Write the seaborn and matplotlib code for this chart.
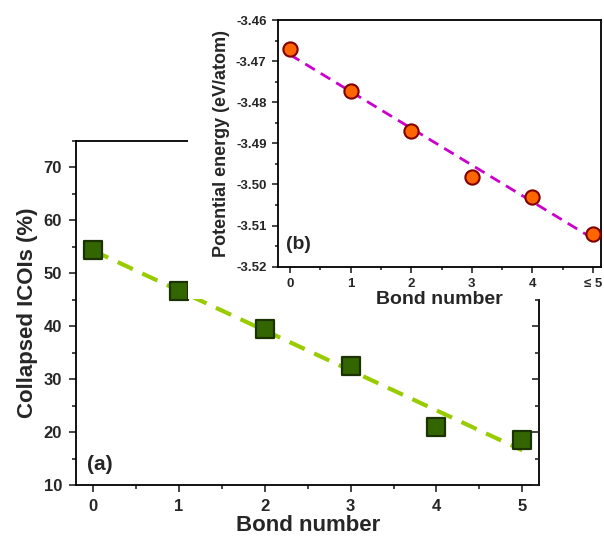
import numpy as np
import pandas as pd
import matplotlib
matplotlib.use("Agg")
import matplotlib.pyplot as plt
import seaborn as sns
from matplotlib.patches import Rectangle
from matplotlib.ticker import MultipleLocator, FormatStrFormatter

# Data
bond_a = [0, 1, 2, 3, 4, 5]
collapsed = [54.5, 46.7, 39.4, 32.4, 21.0, 18.5]
bond_b = [0, 1, 2, 3, 4, 5]
energy = [-3.4671, -3.4773, -3.4870, -3.4983, -3.5030, -3.5121]
xticklabels_b = ["0", "1", "2", "3", "4", "≤ 5"]

sns.set_style("white")
plt.rcParams['font.family'] = ['Liberation Sans', 'DejaVu Sans']
plt.rcParams['font.weight'] = 'bold'

fig = plt.figure(figsize=(6.04, 5.38), dpi=100)

# Main axes
ax = fig.add_axes([0.1258, 0.0985, 0.7674, 0.6394], zorder=0)
df_a = pd.DataFrame({"x": bond_a, "y": collapsed})
sns.regplot(data=df_a, x="x", y="y", ax=ax, ci=None, scatter=False,
            line_kws=dict(color="#99cc00", lw=3, ls=(0, (4, 2.5)), zorder=2))
sns.scatterplot(data=df_a, x="x", y="y", ax=ax, marker="s", s=160,
                color="#336600", edgecolor="#1a3300", linewidth=1.6, zorder=3)
ax.set_xlim(-0.2, 5.2)
ax.set_ylim(10, 75)
ax.set_xticks(range(6))
ax.set_yticks(range(10, 71, 10))
ax.xaxis.set_minor_locator(MultipleLocator(0.5))
ax.yaxis.set_minor_locator(MultipleLocator(5))
ax.tick_params(axis='both', which='major', direction='out', length=5, width=1.2,
               labelsize=12, bottom=True, left=True, pad=5)
ax.tick_params(axis='both', which='minor', direction='out', length=3, width=1.2,
               bottom=True, left=True)
for s in ax.spines.values():
    s.set_linewidth(1.3)
    s.set_color('black')
ax.set_xlabel("Bond number", fontsize=16, fontweight='bold', labelpad=1)
ax.set_ylabel("Collapsed ICOIs (%)", fontsize=16, fontweight='bold', labelpad=4)
ax.text(-0.07, 13.8, "(a)", fontsize=15, fontweight='bold', ha='left', va='center')
plt.setp(ax.get_xticklabels() + ax.get_yticklabels(), fontweight='bold')

# right-side inward ticks
axr = ax.twinx()
axr.set_zorder(0)
axr.set_ylim(10, 75)
axr.set_yticks(range(10, 71, 10))
axr.yaxis.set_minor_locator(MultipleLocator(5))
axr.tick_params(axis='y', which='major', direction='in', length=5, width=1.2,
                right=True, labelright=False)
axr.tick_params(axis='y', which='minor', direction='in', length=3, width=1.2,
                right=True, labelright=False)
for s in axr.spines.values():
    s.set_visible(False)
axr.grid(False)

# white cover behind the inset
rect = Rectangle((188/604, 1-299/538), 1-188/604, 299/538, transform=fig.transFigure,
                 facecolor='white', edgecolor='none', zorder=1)
fig.patches.append(rect)

# Inset axes
ax2 = fig.add_axes([0.4598, 0.5043, 0.5353, 0.4585], zorder=2)
df_b = pd.DataFrame({"x": bond_b, "y": energy})
sns.regplot(data=df_b, x="x", y="y", ax=ax2, ci=None, scatter=False,
            line_kws=dict(color="#cc00cc", lw=2, ls=(0, (4, 2.5)), zorder=2))
sns.scatterplot(data=df_b, x="x", y="y", ax=ax2, marker="o", s=105,
                color="#ff6600", edgecolor="#800000", linewidth=1.5, zorder=3)
ax2.set_xlim(-0.2, 5.13)
ax2.set_ylim(-3.52, -3.46)
ax2.set_xticks(range(6))
ax2.set_xticklabels(xticklabels_b)
ax2.set_yticks(np.round(np.arange(-3.52, -3.459, 0.01), 2))
ax2.yaxis.set_major_formatter(FormatStrFormatter('%.2f'))
ax2.xaxis.set_minor_locator(MultipleLocator(0.5))
ax2.yaxis.set_minor_locator(MultipleLocator(0.005))
ax2.tick_params(axis='both', which='major', direction='out', length=4, width=1.2,
                labelsize=9.5, bottom=True, left=True, pad=4)
ax2.tick_params(axis='both', which='minor', direction='out', length=2.5, width=1.2,
                bottom=True, left=True)
for s in ax2.spines.values():
    s.set_linewidth(1.3)
    s.set_color('black')
ax2.set_xlabel("Bond number", fontsize=14, fontweight='bold', labelpad=1)
ax2.set_ylabel("Potential energy (eV/atom)", fontsize=13, fontweight='bold', labelpad=4)
ax2.text(-0.07, -3.5147, "(b)", fontsize=14, fontweight='bold', ha='left', va='center')
plt.setp(ax2.get_xticklabels() + ax2.get_yticklabels(), fontweight='bold')

fig.savefig("out.png", dpi=100)
